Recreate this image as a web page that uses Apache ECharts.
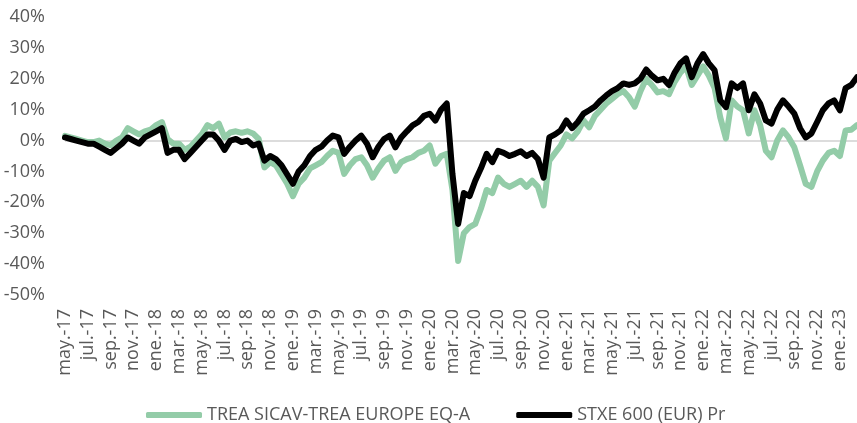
<!DOCTYPE html>
<html>
<head>
<meta charset="utf-8">
<script src="https://cdn.jsdelivr.net/npm/echarts@6/dist/echarts.min.js"></script>
<style>
  html, body { margin: 0; padding: 0; background: #fff; }
  #chart { width: 857px; height: 423px; }
</style>
</head>
<body>
<div id="chart"></div>
<script>
// month labels, two points per month (first / second half)
const months = [
  'may.-17', 'jun.-17', 'jul.-17', 'ago.-17', 'sep.-17', 'oct.-17', 'nov.-17', 'dic.-17',
  'ene.-18', 'feb.-18', 'mar.-18', 'abr.-18', 'may.-18', 'jun.-18', 'jul.-18', 'ago.-18',
  'sep.-18', 'oct.-18', 'nov.-18', 'dic.-18', 'ene.-19', 'feb.-19', 'mar.-19', 'abr.-19',
  'may.-19', 'jun.-19', 'jul.-19', 'ago.-19', 'sep.-19', 'oct.-19', 'nov.-19', 'dic.-19',
  'ene.-20', 'feb.-20', 'mar.-20', 'abr.-20', 'may.-20', 'jun.-20', 'jul.-20', 'ago.-20',
  'sep.-20', 'oct.-20', 'nov.-20', 'dic.-20', 'ene.-21', 'feb.-21', 'mar.-21', 'abr.-21',
  'may.-21', 'jun.-21', 'jul.-21', 'ago.-21', 'sep.-21', 'oct.-21', 'nov.-21', 'dic.-21',
  'ene.-22', 'feb.-22', 'mar.-22', 'abr.-22', 'may.-22', 'jun.-22', 'jul.-22', 'ago.-22',
  'sep.-22', 'oct.-22', 'nov.-22', 'dic.-22', 'ene.-23', 'feb.-23'
];

const treaName = 'TREA SICAV-TREA EUROPE EQ-A';
const stxeName = 'STXE 600 (EUR) Pr';

const trea = [
  1.5, 1, 0.5, 0, -0.5, -0.5, 0, -1, -1.5, 0,
  1, 4, 3, 2, 3, 3.5, 5, 6, 0.5, -1,
  -1, -3, -2, 0, 2, 5, 4, 5.5, 1, 2.6,
  3, 2.5, 3, 2.3, 0.5, -8.7, -7, -8, -11, -14,
  -18, -14, -12, -9, -8, -7, -5, -3.3, -4, -10.8,
  -8, -6, -5.4, -8, -12, -9, -6.5, -5.4, -9.8, -7,
  -6, -5.4, -4, -3.3, -1.6, -7.5, -5, -4.3, -16, -39,
  -30, -28, -27, -22, -16, -17, -12, -14, -15, -14,
  -13, -15, -13, -15, -21, -6.5, -4, -1.6, 2, 0.7,
  3, 6.5, 4.3, 8, 10, 12, 13.5, 15, 16, 14,
  11, 16, 20, 18, 15.6, 16, 15, 19, 22, 24,
  18, 21, 24, 21, 17, 7.5, 0.7, 13, 11, 9.8,
  2.3, 9.8, 5, -3.3, -5.4, 0, 3.3, 1, -2.2, -8,
  -14, -15, -10, -6.5, -4, -3.3, -5, 3.3, 3.5, 5
];

const stxe = [
  1, 0.5, 0, -0.5, -1, -1, -2, -3, -4, -2.5,
  -1, 1, 0, -1, 1, 2, 3, 4, -4, -3,
  -3, -6, -4, -2, 0, 2, 2, 0, -3, 0,
  0.5, -0.5, 0, -1.6, -1, -6.5, -5, -6, -8, -11,
  -14, -10, -8, -5, -3, -2, 0, 1.6, 1, -4.3,
  -2, 0, 1.6, -1, -5.4, -2, 0.5, 1.6, -2.2, 1,
  3, 4.9, 6, 8, 8.7, 6.5, 10, 12, -10.8, -27,
  -17, -18, -13, -9, -4.3, -7, -3.3, -4, -5, -4.3,
  -3.5, -5, -4, -6, -12, 1, 2, 3.3, 6.5, 4,
  6, 8.7, 9.8, 11, 13, 14.6, 16, 17, 18.5, 18,
  18.5, 20, 23, 21, 19.5, 20, 18, 22, 25, 26.6,
  20.5, 25, 28, 25, 22.8, 13, 10.8, 18.5, 17, 18.5,
  9.8, 15, 12, 6.5, 5.5, 10, 13, 11, 8.7, 4,
  1, 2.3, 6, 9.8, 12, 13, 9.8, 17, 18, 20.5
];

const categories = [];
months.forEach(m => { categories.push(m, m); });

const font = 'Open Sans';
const textColor = '#595959';

const chart = echarts.init(document.getElementById('chart'));
chart.setOption({
  animation: false,
  grid: { left: 65, right: 0, top: 17, bottom: 128 },
  legend: {
    left: 141,
    top: 401,
    itemGap: 46,
    itemWidth: 56,
    itemHeight: 6,
    textStyle: { fontFamily: font, fontSize: 18, color: textColor },
    data: [
      { name: treaName, icon: 'roundRect' },
      { name: stxeName, icon: 'roundRect' }
    ]
  },
  xAxis: {
    type: 'category',
    data: categories,
    boundaryGap: false,
    axisLine: { show: false },
    axisTick: { show: false },
    axisLabel: {
      interval: 3,
      rotate: 90,
      margin: 14,
      fontFamily: font,
      fontSize: 18,
      color: textColor
    }
  },
  yAxis: {
    type: 'value',
    min: -50,
    max: 40,
    interval: 10,
    axisLine: { show: false },
    axisTick: { show: false },
    axisLabel: {
      formatter: '{value}%',
      margin: 20,
      fontFamily: font,
      fontSize: 18,
      color: textColor
    },
    splitLine: {
      show: true,
      lineStyle: {
        width: 1.5,
        color: ['rgba(0,0,0,0)', 'rgba(0,0,0,0)', 'rgba(0,0,0,0)', 'rgba(0,0,0,0)', 'rgba(0,0,0,0)',
                '#d0d0d0', 'rgba(0,0,0,0)', 'rgba(0,0,0,0)', 'rgba(0,0,0,0)', 'rgba(0,0,0,0)']
      }
    }
  },
  series: [
    {
      name: treaName,
      type: 'line',
      data: trea,
      symbol: 'none',
      itemStyle: { color: '#93cca8' },
      lineStyle: { color: '#93cca8', width: 6, cap: 'round', join: 'round' }
    },
    {
      name: stxeName,
      type: 'line',
      data: stxe,
      symbol: 'none',
      itemStyle: { color: '#000000' },
      lineStyle: { color: '#000000', width: 6, cap: 'round', join: 'round' }
    }
  ]
});
</script>
</body>
</html>
